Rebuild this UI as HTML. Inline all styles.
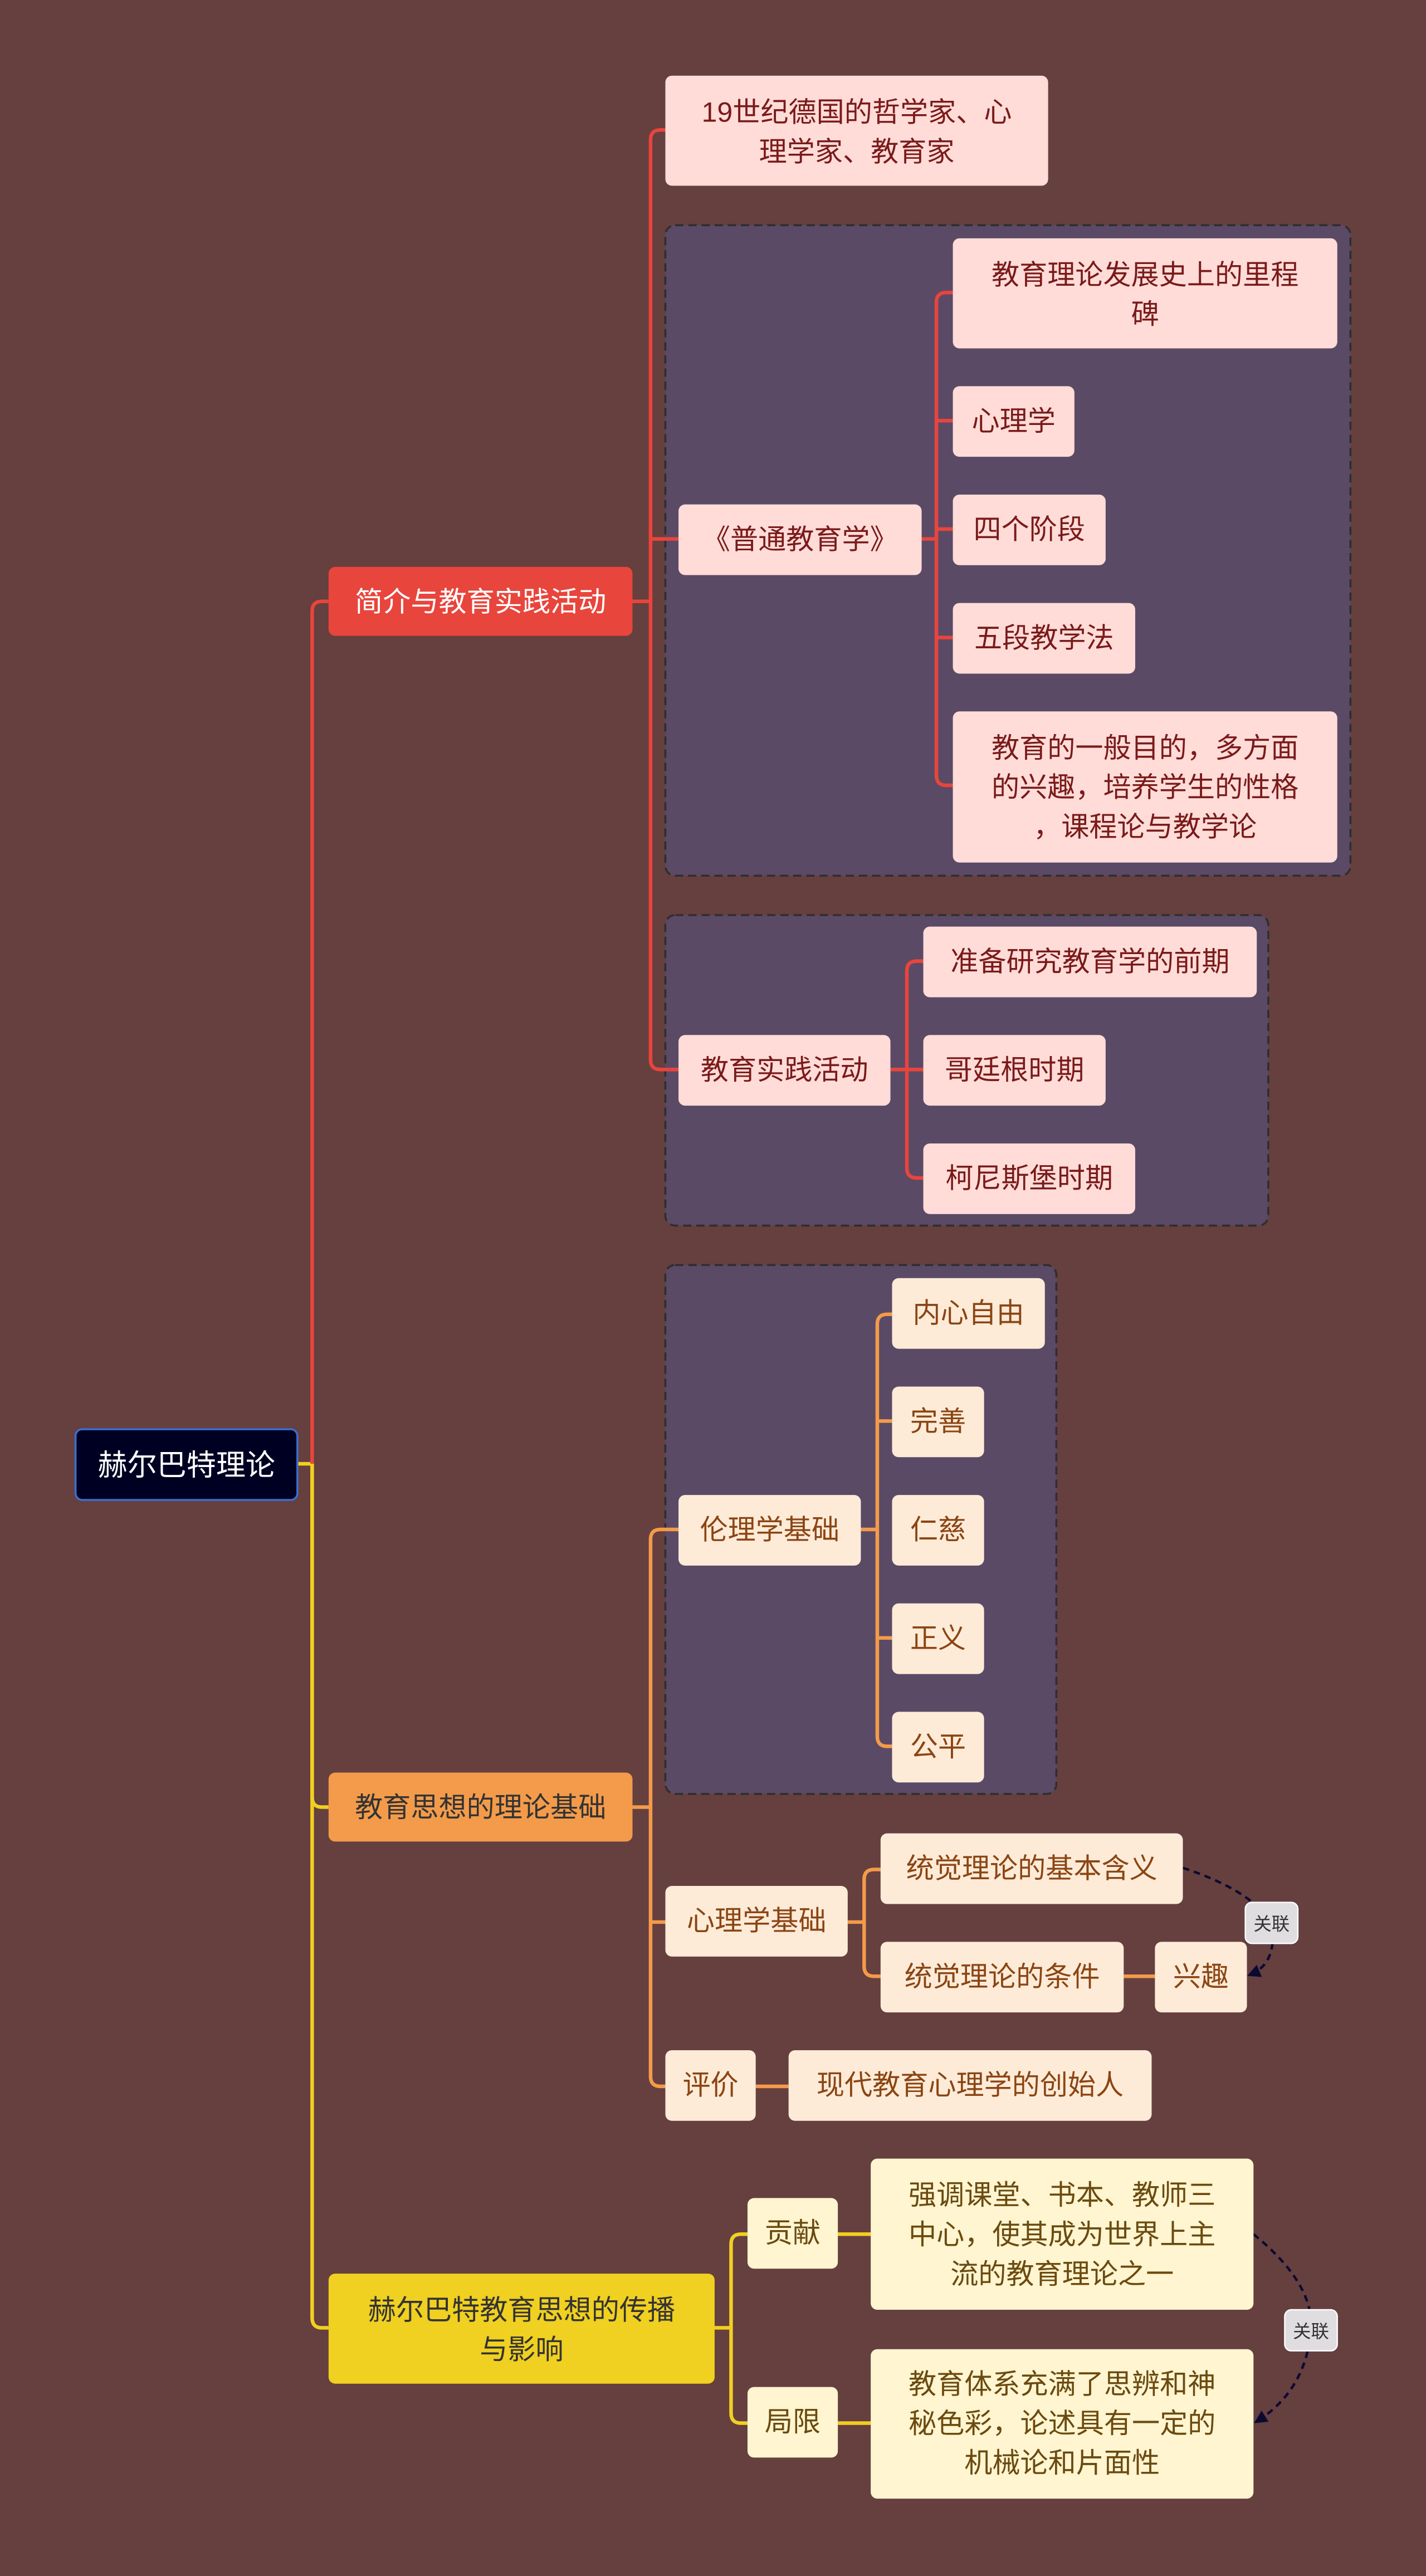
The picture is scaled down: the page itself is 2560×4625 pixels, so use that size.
<!DOCTYPE html>
<html><head><meta charset="utf-8">
<style>
html,body{margin:0;padding:0;background:#663f3f;}
svg{display:block;}
text{font-family:"Liberation Sans","Noto Sans CJK SC",sans-serif;}
</style></head>
<body>
<svg width="2560" height="4625" viewBox="0 0 868 1568" xmlns="http://www.w3.org/2000/svg">
<rect x="0" y="0" width="868" height="1568" fill="#663f3f"/>
<defs>
<marker id="ar" markerWidth="8" markerHeight="8" refX="6" refY="4" orient="auto" markerUnits="userSpaceOnUse"><path d="M0,0 L8,4 L0,8 z" fill="#0a0a30"/></marker>
</defs>

<!-- groups -->
<rect x="405" y="137" width="417" height="396" rx="6" fill="#5a4a66" stroke="#2e2e2e" stroke-width="1.2" stroke-dasharray="5,3"/>
<rect x="405" y="557" width="367" height="189" rx="6" fill="#5a4a66" stroke="#2e2e2e" stroke-width="1.2" stroke-dasharray="5,3"/>
<rect x="405" y="770" width="238" height="322" rx="6" fill="#5a4a66" stroke="#2e2e2e" stroke-width="1.2" stroke-dasharray="5,3"/>

<g fill="none" stroke-width="2.2">
<!-- trunk -->
<path d="M181,891 H190" stroke="#f0d020"/>
<path d="M200,366 H196 Q190,366 190,372 V891" stroke="#e8453c"/>
<path d="M190,891 V1411 Q190,1417 196,1417 H200" stroke="#f0d020"/>
<path d="M190,891 V1094 Q190,1100 196,1100 H200" stroke="#f0d020"/>
<!-- branch1 -->
<g stroke="#e8453c">
<path d="M385,366 H396"/>
<path d="M405,79 H402 Q396,79 396,85 V645 Q396,651 402,651 H413"/>
<path d="M396,328 H413"/>
<path d="M561,328 H570"/>
<path d="M580,178 H576 Q570,178 570,184 V472 Q570,478 576,478 H580"/>
<path d="M570,256 H580 M570,322 H580 M570,388 H580"/>
<path d="M542,651 H552"/>
<path d="M562,585 H558 Q552,585 552,591 V711 Q552,717 558,717 H562"/>
<path d="M552,651 H562"/>
</g>
<!-- branch2 -->
<g stroke="#f39b4a">
<path d="M385,1100 H396"/>
<path d="M413,931 H402 Q396,931 396,937 V1264 Q396,1270 402,1270 H405"/>
<path d="M396,1170 H405"/>
<path d="M524,931 H534"/>
<path d="M543,800 H540 Q534,800 534,806 V1057 Q534,1063 540,1063 H543"/>
<path d="M534,865 H543 M534,997 H543"/>
<path d="M516,1170 H526"/>
<path d="M536,1138 H532 Q526,1138 526,1144 V1197 Q526,1203 532,1203 H536"/>
<path d="M684,1203 H703"/>
<path d="M460,1270 H480"/>
</g>
<!-- branch3 -->
<g stroke="#f0d020">
<path d="M435,1417 H445"/>
<path d="M455,1360 H451 Q445,1360 445,1366 V1469 Q445,1475 451,1475 H455"/>
<path d="M510,1360 H530 M510,1475 H530"/>
</g>
<!-- relations -->
<path d="M720,1137 Q760,1150 774,1170 Q778,1195 761,1202" stroke="#0a0a30" stroke-width="1.5" stroke-dasharray="4,3" marker-end="url(#ar)"/>
<path d="M763,1360 Q800,1390 798,1418 Q795,1455 765,1474" stroke="#0a0a30" stroke-width="1.5" stroke-dasharray="4,3" marker-end="url(#ar)"/>
</g>

<!-- root -->
<rect x="46" y="870" width="135" height="43" rx="4" fill="#000022" stroke="#3a6fd0" stroke-width="1.2"/>
<text x="113.5" y="898" font-size="18" fill="#fff" text-anchor="middle">赫尔巴特理论</text>

<!-- main branches -->
<rect x="200" y="345" width="185" height="42" rx="4" fill="#e8453c"/>
<text x="292.5" y="372" font-size="17" fill="#fff" text-anchor="middle">简介与教育实践活动</text>
<rect x="200" y="1079" width="185" height="42" rx="4" fill="#f39b4a"/>
<text x="292.5" y="1106" font-size="17" fill="#333" text-anchor="middle">教育思想的理论基础</text>
<rect x="200" y="1384" width="235" height="67" rx="4" fill="#f0d020"/>
<text x="317.5" y="1412" font-size="17" fill="#333" text-anchor="middle">赫尔巴特教育思想的传播</text>
<text x="317.5" y="1436" font-size="17" fill="#333" text-anchor="middle">与影响</text>

<!-- branch1 nodes -->
<g font-size="17" fill="#7a1a1a" text-anchor="middle">
<rect x="405" y="46" width="233" height="67" rx="4" fill="#ffdcd8"/>
<text x="521.5" y="74">19世纪德国的哲学家、心</text>
<text x="521.5" y="98">理学家、教育家</text>
<rect x="413" y="307" width="148" height="43" rx="4" fill="#ffdcd8"/>
<text x="487" y="334">《普通教育学》</text>
<rect x="580" y="145" width="234" height="67" rx="4" fill="#ffdcd8"/>
<text x="697" y="173">教育理论发展史上的里程</text>
<text x="697" y="197">碑</text>
<rect x="580" y="235" width="74" height="43" rx="4" fill="#ffdcd8"/>
<text x="617" y="262">心理学</text>
<rect x="580" y="301" width="93" height="43" rx="4" fill="#ffdcd8"/>
<text x="626.5" y="328">四个阶段</text>
<rect x="580" y="367" width="111" height="43" rx="4" fill="#ffdcd8"/>
<text x="635.5" y="394">五段教学法</text>
<rect x="580" y="433" width="234" height="92" rx="4" fill="#ffdcd8"/>
<text x="697" y="461">教育的一般目的，多方面</text>
<text x="697" y="485">的兴趣，培养学生的性格</text>
<text x="697" y="509">，课程论与教学论</text>
<rect x="413" y="630" width="129" height="43" rx="4" fill="#ffdcd8"/>
<text x="477.5" y="657">教育实践活动</text>
<rect x="562" y="564" width="203" height="43" rx="4" fill="#ffdcd8"/>
<text x="663.5" y="591">准备研究教育学的前期</text>
<rect x="562" y="630" width="111" height="43" rx="4" fill="#ffdcd8"/>
<text x="617.5" y="657">哥廷根时期</text>
<rect x="562" y="696" width="129" height="43" rx="4" fill="#ffdcd8"/>
<text x="626.5" y="723">柯尼斯堡时期</text>
</g>

<!-- branch2 nodes -->
<g font-size="17" fill="#8b4513" text-anchor="middle">
<rect x="413" y="910" width="111" height="43" rx="4" fill="#fdebd8"/>
<text x="468.5" y="937">伦理学基础</text>
<rect x="543" y="778" width="93" height="43" rx="4" fill="#fdebd8"/>
<text x="589.5" y="805">内心自由</text>
<rect x="543" y="844" width="56" height="43" rx="4" fill="#fdebd8"/>
<text x="571" y="871">完善</text>
<rect x="543" y="910" width="56" height="43" rx="4" fill="#fdebd8"/>
<text x="571" y="937">仁慈</text>
<rect x="543" y="976" width="56" height="43" rx="4" fill="#fdebd8"/>
<text x="571" y="1003">正义</text>
<rect x="543" y="1042" width="56" height="43" rx="4" fill="#fdebd8"/>
<text x="571" y="1069">公平</text>
<rect x="405" y="1148" width="111" height="43" rx="4" fill="#fdebd8"/>
<text x="460.5" y="1175">心理学基础</text>
<rect x="536" y="1116" width="184" height="43" rx="4" fill="#fdebd8"/>
<text x="628" y="1143">统觉理论的基本含义</text>
<rect x="536" y="1182" width="148" height="43" rx="4" fill="#fdebd8"/>
<text x="610" y="1209">统觉理论的条件</text>
<rect x="703" y="1182" width="56" height="43" rx="4" fill="#fdebd8"/>
<text x="731" y="1209">兴趣</text>
<rect x="405" y="1248" width="55" height="43" rx="4" fill="#fdebd8"/>
<text x="432.5" y="1275">评价</text>
<rect x="480" y="1248" width="221" height="43" rx="4" fill="#fdebd8"/>
<text x="590.5" y="1275">现代教育心理学的创始人</text>
</g>

<!-- branch3 nodes -->
<g font-size="17" fill="#6b4a10" text-anchor="middle">
<rect x="455" y="1338" width="55" height="43" rx="4" fill="#fff5d0"/>
<text x="482.5" y="1365">贡献</text>
<rect x="530" y="1314" width="233" height="92" rx="4" fill="#fff5d0"/>
<text x="646.5" y="1342">强调课堂、书本、教师三</text>
<text x="646.5" y="1366">中心，使其成为世界上主</text>
<text x="646.5" y="1390">流的教育理论之一</text>
<rect x="455" y="1453" width="55" height="43" rx="4" fill="#fff5d0"/>
<text x="482.5" y="1480">局限</text>
<rect x="530" y="1430" width="233" height="91" rx="4" fill="#fff5d0"/>
<text x="646.5" y="1457">教育体系充满了思辨和神</text>
<text x="646.5" y="1481">秘色彩，论述具有一定的</text>
<text x="646.5" y="1505">机械论和片面性</text>
</g>

<!-- relation labels -->
<rect x="758" y="1158" width="32" height="25" rx="4" fill="#e0dde0" stroke="#fff" stroke-width="0.8"/>
<text x="774" y="1175" font-size="11" fill="#333" text-anchor="middle">关联</text>
<rect x="782" y="1406" width="32" height="25" rx="4" fill="#e0dde0" stroke="#fff" stroke-width="0.8"/>
<text x="798" y="1423" font-size="11" fill="#333" text-anchor="middle">关联</text>
</svg>
</body></html>
